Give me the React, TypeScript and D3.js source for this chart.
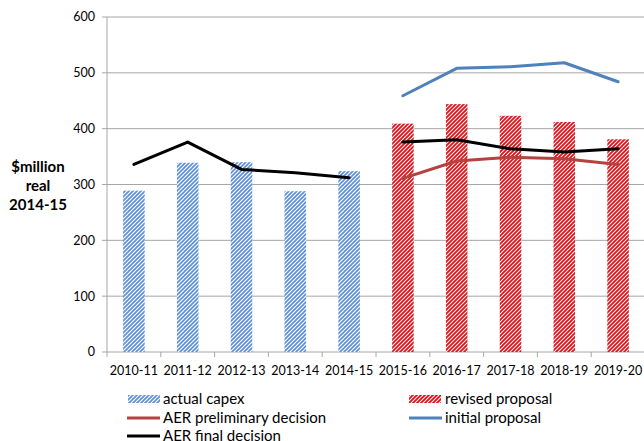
import React from "react";
import * as d3 from "d3";

const categories = ["2010-11","2011-12","2012-13","2013-14","2014-15","2015-16","2016-17","2017-18","2018-19","2019-20"];
const actualCapex = [289, 339, 340, 288, 324, null, null, null, null, null];
const revisedProposal = [null, null, null, null, null, 409, 444, 423, 412, 381];
const initialProposal = [null, null, null, null, null, 459, 508, 511, 518, 484];
const aerPreliminary = [null, null, null, null, null, 311, 342, 349, 346, 336];
const aerFinalPast = [336, 376, 327, 321, 312, null, null, null, null, null];
const aerFinalForecast = [null, null, null, null, null, 376, 380, 364, 358, 364];
const yTicks = [0, 100, 200, 300, 400, 500, 600];

const W = 644, H = 441;
const FONT = "Lato, 'Open Sans', sans-serif";

export default function App() {
  const x = d3.scaleBand<string>().domain(categories).range([107, 645]).padding(0);
  const y = d3.scaleLinear().domain([0, 600]).range([352, 17]);
  const bw = x.bandwidth() * 0.4;
  const cx = (c: string) => (x(c) as number) + x.bandwidth() / 2;
  const line = d3.line<number | null>()
    .defined(d => d != null)
    .x((_, i) => cx(categories[i]))
    .y(d => y(d as number));

  const bars = (vals: (number | null)[], fill: string) =>
    vals.map((v, i) => v == null ? null : (
      <rect key={i} x={cx(categories[i]) - bw / 2} y={y(v)} width={bw} height={y(0) - y(v)} fill={fill} />
    ));

  const grid = "#A6A6A6";
  return (
    <svg width={W} height={H} style={{ position: "absolute", left: 0, top: 0, background: "#fff" }} fontFamily={FONT}>
      <defs>
        <pattern id="pBlue" width="4" height="4" patternUnits="userSpaceOnUse">
          <rect width="4" height="4" fill="#fff" />
          <path d="M-1,1 l2,-2 M0,4 l4,-4 M3,5 l2,-2" stroke="#5B8FD2" strokeWidth="1.6" />
        </pattern>
        <pattern id="pRed" width="4" height="4" patternUnits="userSpaceOnUse">
          <rect width="4" height="4" fill="#fff" />
          <path d="M-1,1 l2,-2 M0,4 l4,-4 M3,5 l2,-2" stroke="#D8121B" strokeWidth="1.8" />
        </pattern>
      </defs>
      {yTicks.map(t => (
        <g key={t}>
          <line x1={102} x2={645} y1={y(t)} y2={y(t)} stroke={grid} strokeWidth={1} />
          <text x={95} y={y(t)} dy="0.35em" textAnchor="end" fontSize={12.5} fill="#000">{t}</text>
        </g>
      ))}
      <line x1={107} x2={107} y1={y(600)} y2={y(0)} stroke={grid} strokeWidth={1} />
      {categories.map((c, i) => (
        <line key={"t" + i} x1={x(c) as number} x2={x(c) as number} y1={y(0)} y2={y(0) + 5} stroke={grid} />
      ))}
      {categories.map((c, i) => (
        <text key={"l" + i} x={cx(c)} y={375} textAnchor="middle" fontSize={12.5} fill="#000">{c}</text>
      ))}
      {bars(actualCapex, "url(#pBlue)")}
      {bars(revisedProposal, "url(#pRed)")}
      <path d={line(initialProposal) || ""} fill="none" stroke="#4F81BD" strokeWidth={3} strokeLinejoin="round" strokeLinecap="round" />
      <path d={line(aerPreliminary) || ""} fill="none" stroke="#B5423F" strokeWidth={3} strokeLinejoin="round" strokeLinecap="round" />
      <path d={line(aerFinalPast) || ""} fill="none" stroke="#000" strokeWidth={3} strokeLinejoin="round" strokeLinecap="round" />
      <path d={line(aerFinalForecast) || ""} fill="none" stroke="#000" strokeWidth={3} strokeLinejoin="round" strokeLinecap="round" />
      <text textAnchor="middle" fontSize={15} fontWeight="bold" fill="#000">
        <tspan x={38} y={172}>$million</tspan>
        <tspan x={38} y={191}>real</tspan>
        <tspan x={38} y={210}>2014-15</tspan>
      </text>
      <g fontSize={15} fill="#000">
        <rect x={128} y={395} width={32} height={8} fill="url(#pBlue)" />
        <text x={163} y={399} dy="0.35em">actual capex</text>
        <line x1={127} x2={160} y1={418} y2={418} stroke="#B5423F" strokeWidth={3} />
        <text x={163} y={418} dy="0.35em">AER preliminary decision</text>
        <line x1={127} x2={160} y1={436} y2={436} stroke="#000" strokeWidth={3} />
        <text x={163} y={436} dy="0.35em">AER final decision</text>
        <rect x={409} y={395} width={32} height={8} fill="url(#pRed)" />
        <text x={445} y={399} dy="0.35em">revised proposal</text>
        <line x1={409} x2={442} y1={418} y2={418} stroke="#4F81BD" strokeWidth={3} />
        <text x={445} y={418} dy="0.35em">initial proposal</text>
      </g>
    </svg>
  );
}
